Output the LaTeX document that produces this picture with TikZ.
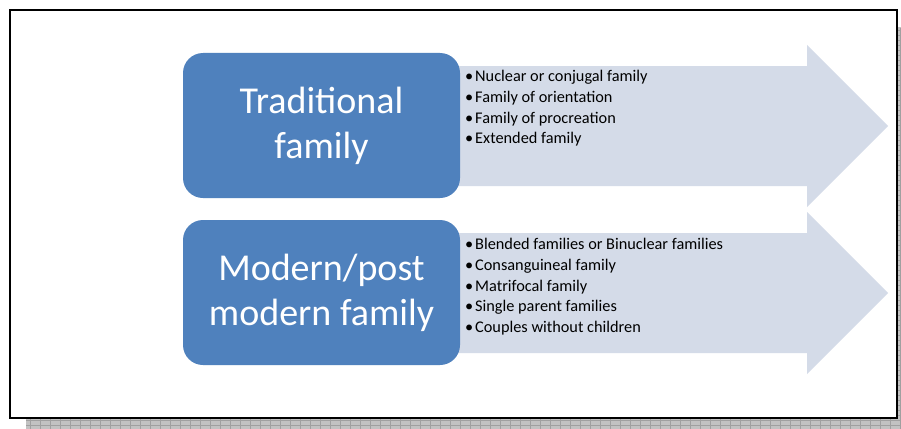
\documentclass[tikz,border=0pt]{standalone}
\usepackage{fontspec}
\setmainfont{Carlito}
\usepackage{xcolor}
\usetikzlibrary{positioning}
\definecolor{boxblue}{HTML}{4F81BD}
\definecolor{arrowfill}{HTML}{D4DBE8}
\definecolor{shadowgray}{HTML}{C2C2C2}
\definecolor{shadowline}{HTML}{A0A0A0}
\newcommand\itemdot{\makebox[10pt][l]{\textbullet}}

\tikzset{
  kind/.style={fill=boxblue,rounded corners=20pt,minimum width=277pt,minimum height=145pt,
    text=white,align=center,inner sep=0pt,font=\fontsize{38}{45}\selectfont},
  items/.style={anchor=north west,inner sep=0pt,align=left,text=black,
    font=\fontsize{16.3}{20.8}\selectfont},
}

\begin{document}
\begin{tikzpicture}[x=1pt,y=-1pt,line join=miter]
  \useasboundingbox (0,0) rectangle (901,428);
  % page shadow, hatched
  \begin{scope}
    \clip (0,0) rectangle (901,428);
    \fill[shadowgray] (26,27) rectangle (910,440);
    \draw[shadowline,line width=0.8pt,xstep=10pt,ystep=5pt] (26,28) grid (910,440);
  \end{scope}
  \fill[white] (10,10) rectangle (897,418);
  \draw[black,line width=2pt] (10,10) rectangle (897,418);

  % arrows behind the boxes
  \fill[arrowfill] (458,66) -- (807,66) -- (807,45) -- (888,126) -- (807,207) -- (807,186) -- (458,186) -- cycle;
  \fill[arrowfill] (458,233) -- (807,233) -- (807,212) -- (888,293) -- (807,374) -- (807,353) -- (458,353) -- cycle;

  \node[kind] (trad) at (321.5,125.5) {Traditional\\family};
  \node[kind] (modern) at (321.5,292.5) {Modern/post\\modern family};

  \node[items] (tradlist) at (465,70) {\itemdot Nuclear or conjugal family\\
    \itemdot Family of orientation\\
    \itemdot Family of procreation\\
    \itemdot Extended family};
  \node[items] (modlist) at (465,238) {\itemdot Blended families or Binuclear families\\
    \itemdot Consanguineal family\\
    \itemdot Matrifocal family\\
    \itemdot Single parent families\\
    \itemdot Couples without children};
\end{tikzpicture}
\end{document}
